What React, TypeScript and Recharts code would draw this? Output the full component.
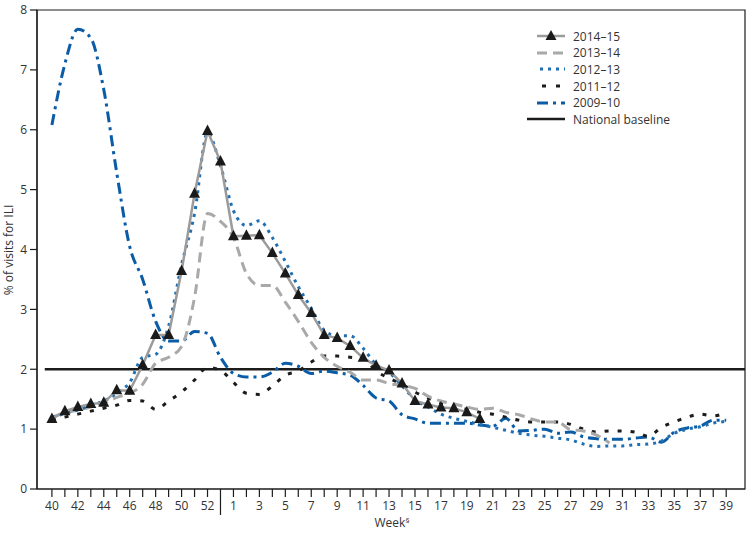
import {
  LineChart,
  Line,
  XAxis,
  YAxis,
  ReferenceLine,
  ReferenceArea,
} from "recharts";

// weeks 40..53 of the first year, then 1..39
const WEEKS = [
  40, 41, 42, 43, 44, 45, 46, 47, 48, 49, 50, 51, 52, 53,
  1, 2, 3, 4, 5, 6, 7, 8, 9, 10, 11, 12, 13, 14, 15, 16, 17, 18, 19, 20,
  21, 22, 23, 24, 25, 26, 27, 28, 29, 30, 31, 32, 33, 34, 35, 36, 37, 38, 39,
];

const S1415 = [
  1.17, 1.3, 1.37, 1.42, 1.44, 1.65, 1.64, 2.07, 2.57, 2.57, 3.64, 4.93, 5.98, 5.47,
  4.22, 4.23, 4.24, 3.94, 3.6, 3.24, 2.94, 2.57, 2.52, 2.39, 2.19, 2.06, 1.98, 1.76,
  1.47, 1.41, 1.36, 1.35, 1.28, 1.17,
];

const S1314 = [
  1.2, 1.27, 1.32, 1.37, 1.44, 1.53, 1.6, 1.75, 2.1, 2.2, 2.38, 3.2, 4.6, 4.47,
  4.2, 3.6, 3.4, 3.4, 3.12, 2.8, 2.45, 2.2, 2.05, 1.95, 1.82, 1.82, 1.76, 1.73,
  1.68, 1.55, 1.47, 1.42, 1.37, 1.33, 1.35, 1.28, 1.24, 1.17, 1.12, 1.12, 0.99,
  0.97, 0.9, 0.77,
];

const S1213 = [
  1.2, 1.26, 1.32, 1.4, 1.47, 1.6, 1.78, 2.2, 2.25, 2.72, 3.75, 4.6, 5.95, 5.4,
  4.65, 4.4, 4.48, 4.2, 3.8, 3.38, 3.02, 2.65, 2.56, 2.56, 2.35, 2.08, 1.95, 1.72,
  1.5, 1.37, 1.25, 1.18, 1.13, 1.08, 1.03, 0.98, 0.93, 0.9, 0.88, 0.85, 0.82, 0.75,
  0.71, 0.72, 0.72, 0.74, 0.75, 0.8, 0.93, 1.0, 1.04, 1.1, 1.13,
];

const S1112 = [
  1.15, 1.2, 1.25, 1.3, 1.35, 1.4, 1.48, 1.47, 1.33, 1.47, 1.62, 1.82, 2.03, 1.98,
  1.78, 1.6, 1.58, 1.72, 1.9, 1.97, 2.12, 2.22, 2.22, 2.2, 2.18, 1.97, 1.85, 1.75,
  1.62, 1.52, 1.43, 1.38, 1.33, 1.28, 1.25, 1.2, 1.15, 1.12, 1.12, 1.12, 1.08, 1.0,
  0.95, 0.97, 0.97, 0.95, 0.88, 1.03, 1.12, 1.2, 1.25, 1.22, 1.28,
];

const S0910 = [
  6.08, 7.1, 7.68, 7.53, 6.67, 5.28, 4.05, 3.5, 2.8, 2.47, 2.47, 2.63, 2.6, 2.2,
  1.93, 1.87, 1.87, 1.95, 2.1, 2.05, 1.93, 1.97, 1.94, 1.9, 1.73, 1.52, 1.47, 1.24,
  1.17, 1.1, 1.1, 1.1, 1.1, 1.07, 1.05, 1.18, 0.97, 0.98, 1.0, 0.93, 0.95, 0.87,
  0.84, 0.83, 0.83, 0.85, 0.87, 0.78, 0.95, 1.02, 1.05, 1.15, 1.15,
];

const BASELINE = 2.0;
const Y_TICKS = [0, 1, 2, 3, 4, 5, 6, 7, 8];

const FONT = "'Liberation Sans Narrow', 'Open Sans', sans-serif";
const GRAY_SOLID = "#9b9b9b";
const GRAY_DASH = "#a9a9a9";
const BLUE_DOT = "#1f6fb2";
const BLUE_DASHDOT = "#0b5ca6";
const BLACK = "#1c1c1c";

const data = WEEKS.map((week, i) => ({
  i,
  week,
  s1415: S1415[i] ?? null,
  s1314: S1314[i] ?? null,
  s1213: S1213[i] ?? null,
  s1112: S1112[i] ?? null,
  s0910: S0910[i] ?? null,
}));

const X_MIN = -1.15;
const X_MAX = 53.45;

function Triangle(props: any) {
  const { cx, cy } = props;
  if (cx == null || cy == null) return <g />;
  return (
    <polygon
      points={`${cx},${cy - 6.5} ${cx - 5.5},${cy + 4} ${cx + 5.5},${cy + 4}`}
      fill="#1a1a1a"
    />
  );
}

function WeekTick(props: any) {
  const { x, y, payload } = props;
  const idx = payload.value as number;
  const week = WEEKS[idx];
  if (week === 53) {
    return <line x1={x} x2={x} y1={y} y2={y + 26} stroke={BLACK} strokeWidth={1.2} />;
  }
  return (
    <g>
      <line x1={x} x2={x} y1={y} y2={y + 8} stroke={BLACK} strokeWidth={1.2} />
      {idx % 2 === 0 && (
        <text x={x} y={y + 21} textAnchor="middle" fontSize={12} fontFamily={FONT} fill="#333">
          {week}
        </text>
      )}
    </g>
  );
}

function LegendRow({ label, children }: { label: string; children: any }) {
  return (
    <div style={{ display: "flex", alignItems: "center", height: 16.6 }}>
      <svg width={40} height={12} style={{ marginRight: 8 }}>
        {children}
      </svg>
      <span>{label}</span>
    </div>
  );
}

function ChartLegend() {
  return (
    <div
      style={{
        position: "absolute",
        left: 525,
        top: 28,
        fontFamily: FONT,
        fontSize: 12,
        color: "#333",
      }}
    >
      <LegendRow label="2014–15">
        <line x1={12} x2={40} y1={6} y2={6} stroke={GRAY_SOLID} strokeWidth={2.5} />
        <polygon points="26,0 20.5,10 31.5,10" fill="#1a1a1a" />
      </LegendRow>
      <LegendRow label="2013–14">
        <line x1={12} x2={40} y1={6} y2={6} stroke={GRAY_DASH} strokeWidth={3} strokeDasharray="10 6" />
      </LegendRow>
      <LegendRow label="2012–13">
        <line x1={15} x2={40} y1={6} y2={6} stroke={BLUE_DOT} strokeWidth={3} strokeDasharray="3 5" />
      </LegendRow>
      <LegendRow label="2011–12">
        <line x1={17} x2={40} y1={6} y2={6} stroke={BLACK} strokeWidth={3} strokeDasharray="4 10" />
      </LegendRow>
      <LegendRow label="2009–10">
        <line x1={12} x2={40} y1={6} y2={6} stroke={BLUE_DASHDOT} strokeWidth={3} strokeDasharray="11 5 3 5" />
      </LegendRow>
      <LegendRow label="National baseline">
        <line x1={2} x2={40} y1={6} y2={6} stroke={BLACK} strokeWidth={2.5} />
      </LegendRow>
    </div>
  );
}

export default function App() {
  return (
    <div style={{ position: "absolute", left: 0, top: 0, width: 752, height: 537, background: "#fff" }}>
      <LineChart width={752} height={537} data={data} margin={{ top: 10, right: 7, bottom: 0, left: 0 }}>
        <ReferenceArea x1={X_MIN} x2={X_MAX} y1={0} y2={8} fill="none" stroke={BLACK} strokeWidth={1.2} />
        <XAxis
          dataKey="i"
          type="number"
          domain={[X_MIN, X_MAX]}
          ticks={WEEKS.map((_, i) => i)}
          interval={0}
          allowDataOverflow
          height={48}
          tickSize={0}
          tickMargin={0}
          tickLine={false}
          axisLine={{ stroke: BLACK, strokeWidth: 1.2 }}
          tick={<WeekTick />}
          label={{
            content: () => (
              <text x={392} y={527} textAnchor="middle" fontSize={12} fontFamily={FONT} fill="#333">
                Week<tspan fontSize={8} dy={-4}>§</tspan>
              </text>
            ),
          }}
        />
        <YAxis
          type="number"
          domain={[0, 8]}
          ticks={Y_TICKS}
          width={37}
          tickSize={7}
          tickMargin={3}
          tickLine={{ stroke: BLACK, strokeWidth: 1.2 }}
          axisLine={{ stroke: BLACK, strokeWidth: 1.2 }}
          tick={{ fontSize: 12, fontFamily: FONT, fill: "#333" }}
          label={{
            content: () => (
              <text
                x={13}
                y={250}
                transform="rotate(-90 13 250)"
                textAnchor="middle"
                fontSize={12}
                fontFamily={FONT}
                fill="#333"
              >
                % of visits for ILI
              </text>
            ),
          }}
        />
        <ReferenceLine
          segment={[
            { x: -0.55, y: BASELINE },
            { x: X_MAX, y: BASELINE },
          ]}
          stroke={BLACK}
          strokeWidth={2.5}
        />
        <Line
          dataKey="s0910"
          type="monotone"
          stroke={BLUE_DASHDOT}
          strokeWidth={3}
          strokeDasharray="11 5 3 5"
          dot={false}
          isAnimationActive={false}
        />
        <Line
          dataKey="s1112"
          type="monotone"
          stroke={BLACK}
          strokeWidth={3}
          strokeDasharray="4 9"
          dot={false}
          isAnimationActive={false}
        />
        <Line
          dataKey="s1314"
          type="monotone"
          stroke={GRAY_DASH}
          strokeWidth={3}
          strokeDasharray="10 6"
          dot={false}
          isAnimationActive={false}
        />
        <Line
          dataKey="s1213"
          type="monotone"
          stroke={BLUE_DOT}
          strokeWidth={3}
          strokeDasharray="3 5"
          dot={false}
          isAnimationActive={false}
        />
        <Line
          dataKey="s1415"
          type="linear"
          stroke={GRAY_SOLID}
          strokeWidth={2.5}
          dot={<Triangle />}
          isAnimationActive={false}
        />
      </LineChart>
      <ChartLegend />
    </div>
  );
}
